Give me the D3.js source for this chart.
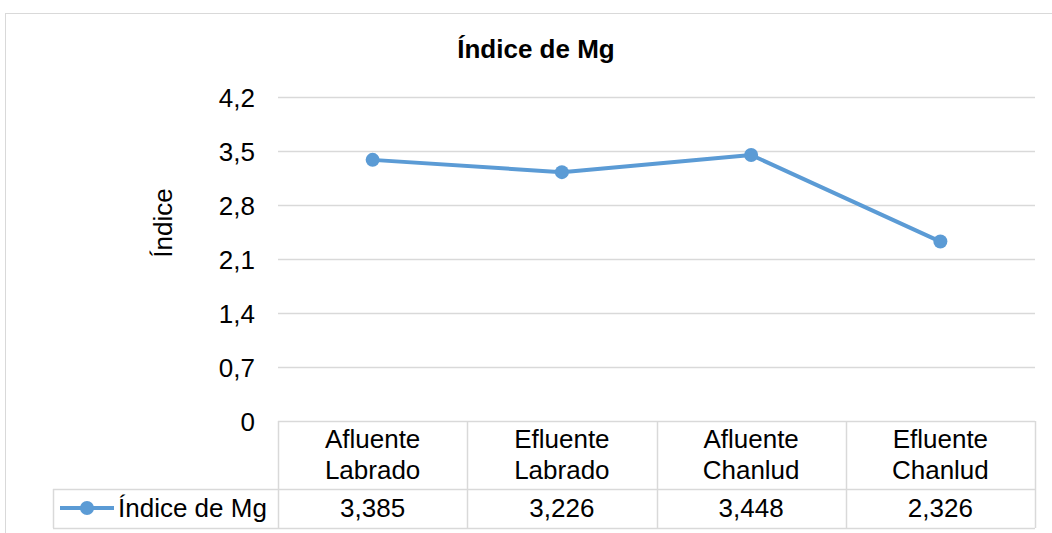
<!DOCTYPE html>
<html>
<head>
<meta charset="utf-8">
<script src="https://cdn.jsdelivr.net/npm/d3@7"></script>
<style>
  body { margin: 0; background: #fff; }
  text { font-family: "Liberation Sans", Arial, sans-serif; fill: #000; }
</style>
</head>
<body>
<div id="chart"></div>
<script>
var categories = [['Afluente', 'Labrado'], ['Efluente', 'Labrado'], ['Afluente', 'Chanlud'], ['Efluente', 'Chanlud']];
var series_name = 'Índice de Mg';
var values = [3.385, 3.226, 3.448, 2.326];
var value_labels = ['3,385', '3,226', '3,448', '2,326'];
var y_ticks = [0, 0.7, 1.4, 2.1, 2.8, 3.5, 4.2];
var y_tick_labels = ['0', '0,7', '1,4', '2,1', '2,8', '3,5', '4,2'];

var chart_width = 1052;
var chart_height = 533;
var plot_left = 278;
var plot_right = 1035;
var plot_top = 97;
var plot_bottom = 421;
var row_line = 489;
var table_bottom = 528;
var legend_left = 53;
var font_size = 26;
var color = '#5b9bd5';
var grid_color = '#d9d9d9';

var svg = d3.select('#chart')
  .append('svg')
  .attr('width', chart_width)
  .attr('height', chart_height);

// outer frame
svg.append('rect')
  .attr('x', 5.5)
  .attr('y', 13.5)
  .attr('width', 1060)
  .attr('height', 530)
  .attr('fill', 'none')
  .attr('stroke', grid_color);

// title
svg.append('text')
  .attr('x', 536)
  .attr('y', 58)
  .attr('text-anchor', 'middle')
  .attr('font-size', font_size)
  .attr('font-weight', 'bold')
  .text('Índice de Mg');

// scales
var x_scale = d3.scaleBand()
  .domain(d3.range(categories.length))
  .range([plot_left, plot_right]);

var y_scale = d3.scaleLinear()
  .domain([0, 4.2])
  .range([plot_bottom, plot_top]);

// gridlines
svg.append('g')
  .selectAll('line')
  .data(y_ticks.slice(1))
  .enter()
  .append('line')
  .attr('x1', plot_left)
  .attr('x2', plot_right)
  .attr('y1', (d) => Math.round(y_scale(d)) + 0.5)
  .attr('y2', (d) => Math.round(y_scale(d)) + 0.5)
  .attr('stroke', grid_color)
  .attr('stroke-width', 1.5);

// y tick labels
svg.append('g')
  .selectAll('text')
  .data(y_ticks)
  .enter()
  .append('text')
  .attr('x', 255)
  .attr('y', (d) => y_scale(d) + 9.5)
  .attr('text-anchor', 'end')
  .attr('font-size', font_size)
  .text((d, i) => y_tick_labels[i]);

// y axis title
svg.append('text')
  .attr('transform', 'translate(172,223) rotate(-90)')
  .attr('text-anchor', 'middle')
  .attr('font-size', font_size)
  .text('Índice');

// data table lines
var table = svg.append('g')
  .attr('stroke', grid_color)
  .attr('stroke-width', 1.5);

table.append('line')
  .attr('x1', plot_left).attr('x2', plot_right)
  .attr('y1', plot_bottom + 0.5).attr('y2', plot_bottom + 0.5);
table.append('line')
  .attr('x1', legend_left).attr('x2', plot_right)
  .attr('y1', row_line + 0.5).attr('y2', row_line + 0.5);
table.append('line')
  .attr('x1', legend_left).attr('x2', plot_right)
  .attr('y1', table_bottom + 0.5).attr('y2', table_bottom + 0.5);
table.append('line')
  .attr('x1', legend_left + 0.5).attr('x2', legend_left + 0.5)
  .attr('y1', row_line).attr('y2', table_bottom);

table.selectAll('.col')
  .data(d3.range(categories.length + 1))
  .enter()
  .append('line')
  .attr('class', 'col')
  .attr('x1', (d) => Math.round(plot_left + d * x_scale.bandwidth()) + 0.5)
  .attr('x2', (d) => Math.round(plot_left + d * x_scale.bandwidth()) + 0.5)
  .attr('y1', plot_bottom)
  .attr('y2', table_bottom);

// category labels
var cat = svg.append('g')
  .selectAll('text')
  .data(categories)
  .enter()
  .append('text')
  .attr('text-anchor', 'middle')
  .attr('font-size', font_size)
  .attr('x', (d, i) => x_scale(i) + x_scale.bandwidth() / 2)
  .attr('y', 448);

cat.append('tspan')
  .attr('x', (d, i) => x_scale(i) + x_scale.bandwidth() / 2)
  .text((d) => d[0]);
cat.append('tspan')
  .attr('x', (d, i) => x_scale(i) + x_scale.bandwidth() / 2)
  .attr('dy', 31)
  .text((d) => d[1]);

// value labels
svg.append('g')
  .selectAll('text')
  .data(value_labels)
  .enter()
  .append('text')
  .attr('text-anchor', 'middle')
  .attr('font-size', font_size)
  .attr('x', (d, i) => x_scale(i) + x_scale.bandwidth() / 2)
  .attr('y', 517)
  .text((d) => d);

// legend key
svg.append('line')
  .attr('x1', 60).attr('x2', 114)
  .attr('y1', 508).attr('y2', 508)
  .attr('stroke', color)
  .attr('stroke-width', 4);
svg.append('circle')
  .attr('cx', 87).attr('cy', 508).attr('r', 7)
  .attr('fill', color);
svg.append('text')
  .attr('x', 118)
  .attr('y', 517)
  .attr('font-size', font_size)
  .text(series_name);

// line
var line = d3.line()
  .x((d, i) => x_scale(i) + x_scale.bandwidth() / 2)
  .y((d) => y_scale(d));

svg.append('path')
  .datum(values)
  .attr('d', line)
  .attr('fill', 'none')
  .attr('stroke', color)
  .attr('stroke-width', 4)
  .attr('stroke-linejoin', 'round');

svg.selectAll('.pt')
  .data(values)
  .enter()
  .append('circle')
  .attr('class', 'pt')
  .attr('cx', (d, i) => x_scale(i) + x_scale.bandwidth() / 2)
  .attr('cy', (d) => y_scale(d))
  .attr('r', 7)
  .attr('fill', color);
</script>
</body>
</html>
